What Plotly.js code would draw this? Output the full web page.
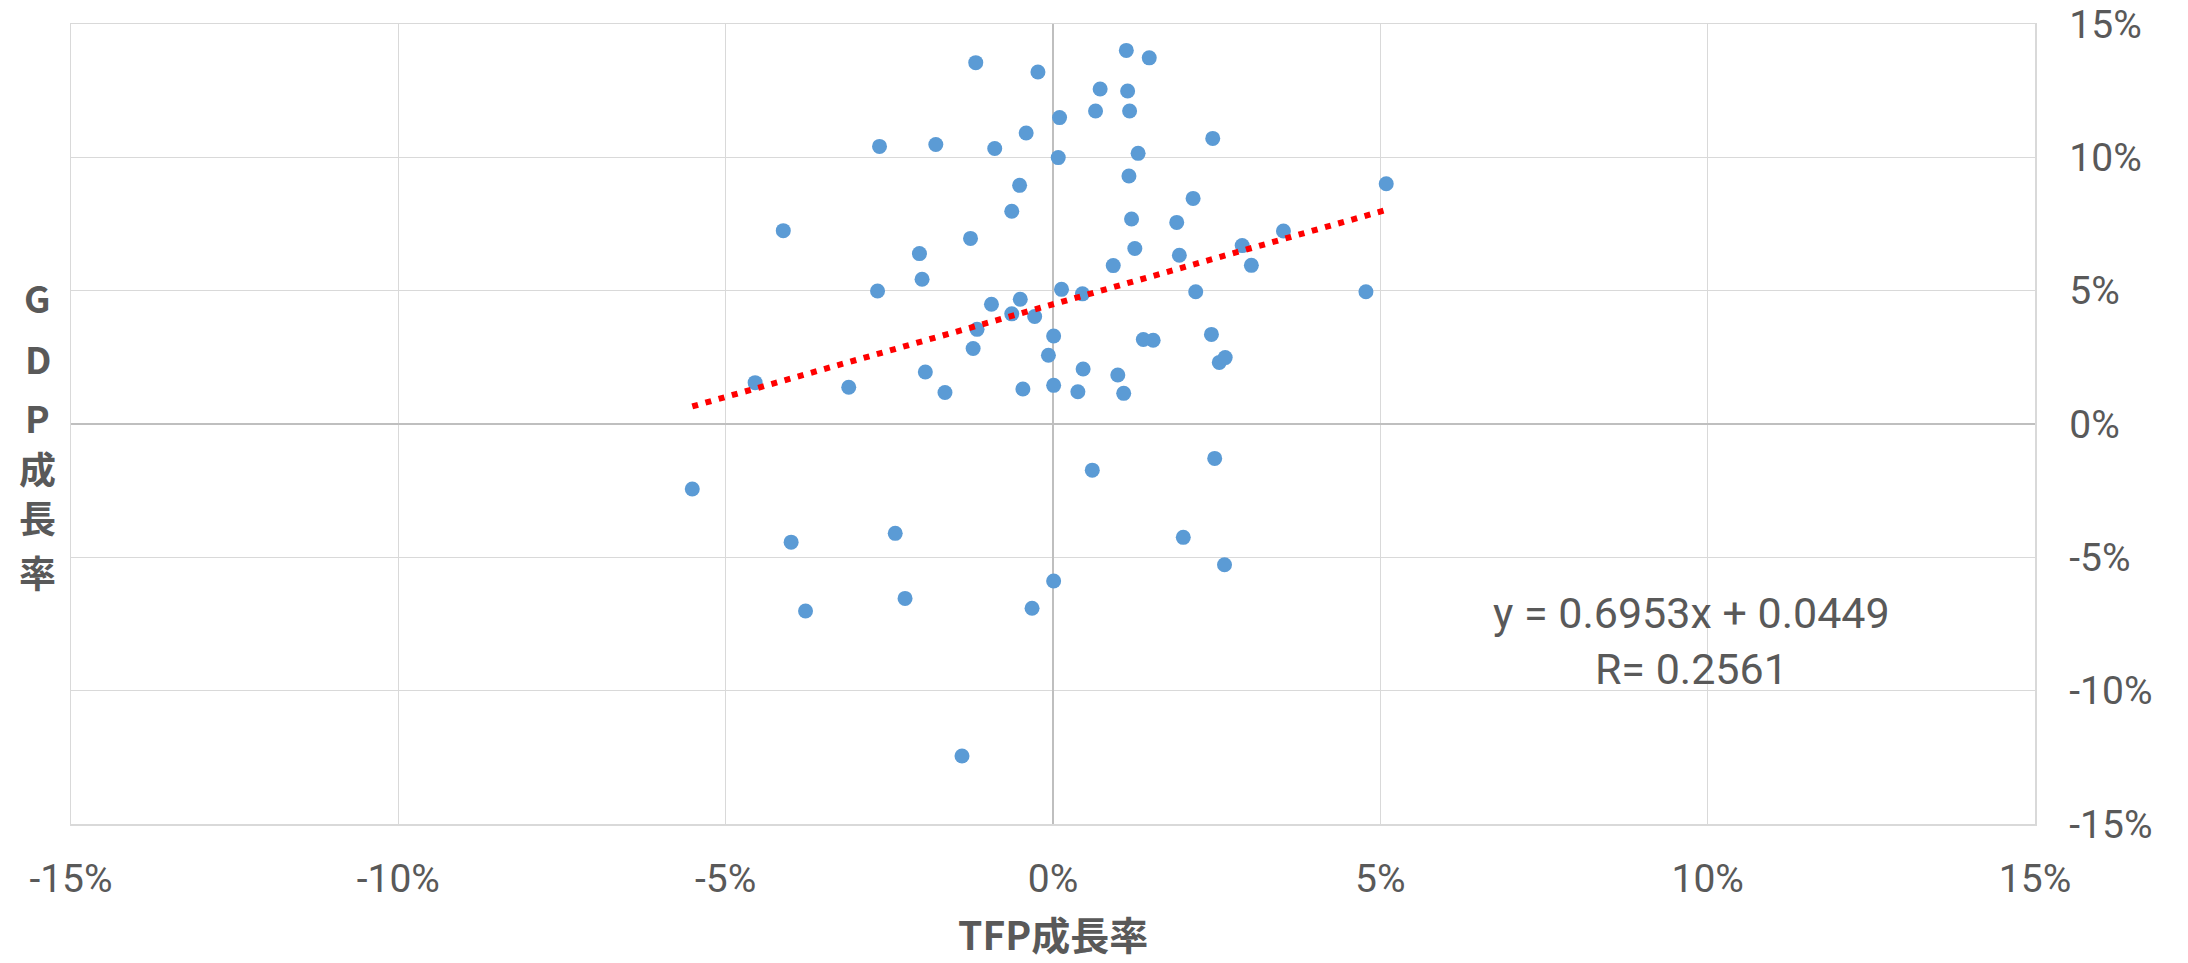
<!DOCTYPE html>
<html>
<head>
<meta charset="utf-8">
<script src="https://cdn.plot.ly/plotly-3.0.1.min.js"></script>
<style>
  html, body { margin: 0; padding: 0; background: #ffffff; }
  #chart { width: 2188px; height: 963px; }
</style>
</head>
<body>
<div id="chart"></div>
<script>
// TFP growth rate (x) and GDP growth rate (y), as fractions
const tfpGrowth = [
  -0.0118, -0.0023, 0.0112, 0.0147, 0.0072, 0.0114, 0.0065, 0.0117, 0.0010, -0.0041,
  -0.0265, -0.0179, -0.0089, 0.0008, 0.0130, 0.0116, -0.0051, -0.0063, -0.0412, 0.0120,
  -0.0126, 0.0125, -0.0204, 0.0092, -0.0200, -0.0268, 0.0013, 0.0045, -0.0050, -0.0094,
  -0.0063, -0.0028, -0.0116, 0.0138, 0.0001, -0.0122, -0.0007, -0.0195, 0.0046, 0.0099,
  -0.0455, -0.0312, -0.0165, -0.0046, 0.0001, 0.0038, 0.0108, 0.0244, 0.0509, 0.0214,
  0.0189, 0.0352, 0.0289, 0.0193, 0.0303, 0.0218, 0.0478, 0.0153, 0.0242, 0.0254,
  0.0263, -0.0551, -0.0400, -0.0241, -0.0378, -0.0226, -0.0032, 0.0001, 0.0060, -0.0139,
  0.0247, 0.0199, 0.0262
];
const gdpGrowth = [
  0.1355, 0.1320, 0.1401, 0.1373, 0.1256, 0.1249, 0.1174, 0.1174, 0.1149, 0.1091,
  0.1041, 0.1048, 0.1033, 0.0999, 0.1015, 0.0930, 0.0895, 0.0798, 0.0725, 0.0769,
  0.0696, 0.0658, 0.0639, 0.0594, 0.0543, 0.0499, 0.0505, 0.0488, 0.0468, 0.0449,
  0.0413, 0.0403, 0.0355, 0.0317, 0.0330, 0.0283, 0.0258, 0.0195, 0.0206, 0.0184,
  0.0155, 0.0138, 0.0118, 0.0131, 0.0145, 0.0121, 0.0115, 0.1071, 0.0901, 0.0846,
  0.0756, 0.0724, 0.0669, 0.0633, 0.0595, 0.0496, 0.0496, 0.0314, 0.0336, 0.0231,
  0.0249, -0.0244, -0.0443, -0.0410, -0.0701, -0.0654, -0.0691, -0.0589, -0.0173, -0.1245,
  -0.0129, -0.0425, -0.0528
];

// Linear trendline reported on the chart
const trendSlope = 0.6953;
const trendIntercept = 0.0449;
const trendLabel = "y = 0.6953x + 0.0449<br>R= 0.2561";

// Axis ticks
const tickValues = [-0.15, -0.10, -0.05, 0, 0.05, 0.10, 0.15];
const tickLabels = ["-15%", "-10%", "-5%", "0%", "5%", "10%", "15%"];

const xTitle = "TFP成長率";
const yTitleChars = ["G", "D", "P", "成", "長", "率"];
// vertical placement of the stacked y-title characters (paper coordinates)
const yTitlePos = [0.659, 0.583, 0.509, 0.445, 0.384, 0.315];

const xMin = Math.min(...tfpGrowth);
const xMax = Math.max(...tfpGrowth);
const trendX = [xMin, xMax];
const trendY = trendX.map(v => trendSlope * v + trendIntercept);

const textColor = "#595959";
const gridColor = "#d9d9d9";

const traces = [
  {
    type: "scatter",
    mode: "markers",
    x: tfpGrowth,
    y: gdpGrowth,
    marker: { color: "#5b9bd5", size: 15, line: { width: 0 } },
    hoverinfo: "x+y"
  },
  {
    type: "scatter",
    mode: "lines",
    x: trendX,
    y: trendY,
    line: { color: "#ff0000", width: 6, dash: "6px,7.7px" },
    hoverinfo: "skip"
  }
];

const axisCommon = {
  range: [-0.15, 0.15],
  tickmode: "array",
  tickvals: tickValues,
  ticktext: tickLabels,
  showgrid: true,
  gridcolor: gridColor,
  gridwidth: 1.5,
  zeroline: true,
  zerolinecolor: "#bfbfbf",
  zerolinewidth: 2,
  showline: true,
  linecolor: gridColor,
  linewidth: 1.5,
  mirror: true,
  ticks: "",
  tickfont: { family: "Roboto, 'Liberation Sans', sans-serif", size: 39, color: textColor },
  fixedrange: true
};

const annotations = [
  {
    xref: "x", yref: "y",
    x: 0.0976, y: -0.0814,
    xanchor: "center", yanchor: "middle",
    text: trendLabel,
    showarrow: false,
    align: "center",
    font: { family: "Roboto, 'Liberation Sans', sans-serif", size: 43, color: textColor }
  },
  {
    xref: "paper", yref: "paper",
    x: 0.5, y: -0.174,
    xanchor: "center", yanchor: "bottom",
    text: "<b>" + xTitle + "</b>",
    showarrow: false,
    font: { family: "'Noto Sans CJK JP', sans-serif", size: 39, color: textColor }
  }
];
yTitleChars.forEach((ch, i) => {
  annotations.push({
    xref: "paper", yref: "paper",
    x: -0.017, y: yTitlePos[i],
    xanchor: "center", yanchor: "middle",
    text: "<b>" + ch + "</b>",
    showarrow: false,
    font: { family: "'Noto Sans CJK JP', sans-serif", size: 37, color: textColor }
  });
});

const layout = {
  width: 2188,
  height: 963,
  margin: { l: 71, r: 153, t: 24, b: 139 },
  paper_bgcolor: "#ffffff",
  plot_bgcolor: "#ffffff",
  showlegend: false,
  xaxis: Object.assign({}, axisCommon, {
    side: "bottom",
    ticklabelstandoff: 20
  }),
  yaxis: Object.assign({}, axisCommon, {
    side: "right",
    ticklabelstandoff: 25
  }),
  annotations: annotations
};

Plotly.newPlot("chart", traces, layout, { displayModeBar: false, staticPlot: true });
</script>
</body>
</html>
